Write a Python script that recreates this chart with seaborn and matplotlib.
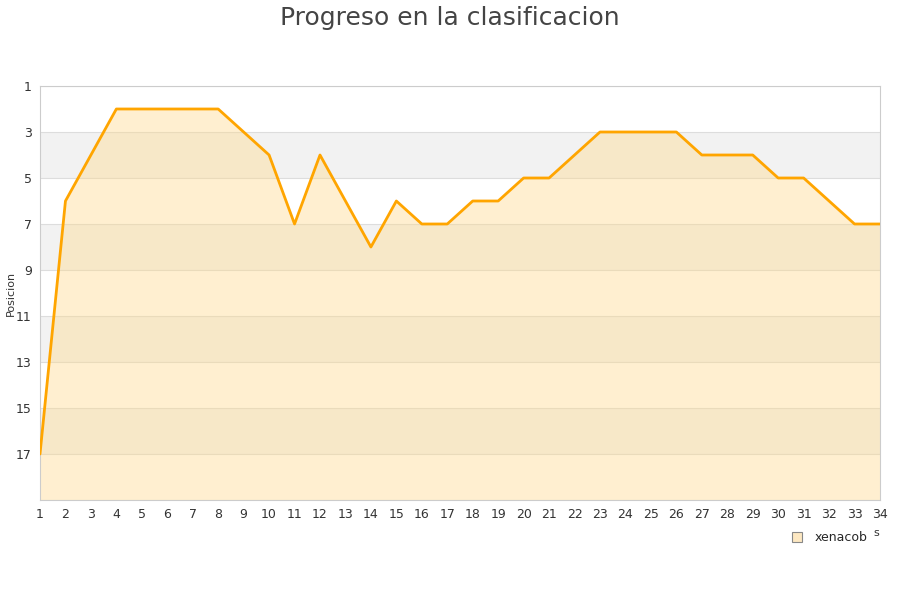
import matplotlib.pyplot as plt
import seaborn as sns
import pandas as pd

jornadas = list(range(1, 35))
posiciones = [17, 6, 4, 2, 2, 2, 2, 2, 3, 4, 7, 4, 6, 8, 6, 7, 7, 6, 6, 5,
              5, 4, 3, 3, 3, 3, 4, 4, 4, 5, 5, 6, 7, 7]
y_ticks = [1, 3, 5, 7, 9, 11, 13, 15, 17]
equipo = "xenacob"

df = pd.DataFrame({"jornada": jornadas, "posicion": posiciones})

sns.set_style("white")
plt.rcParams["font.family"] = ["DejaVu Sans"]

fig = plt.figure(figsize=(9, 6), dpi=100)
ax = fig.add_axes([40 / 900, 100 / 600, 840 / 900, 414 / 600])

# alternating grey bands
for lo in range(3, 19, 4):
    ax.axhspan(lo, lo + 2, color="#f2f2f2", zorder=0, lw=0)
for t in y_ticks + [19]:
    ax.axhline(t, color="#dddddd", lw=0.8, zorder=1)

ax.fill_between(df["jornada"], df["posicion"], 19, color="#ffd98a", alpha=0.4,
                lw=0, zorder=2)
sns.lineplot(data=df, x="jornada", y="posicion", color="#ffa500", lw=2,
             ax=ax, zorder=3, legend=False)

ax.set_xlim(1, 34)
ax.set_ylim(19, 1)
ax.set_xticks(jornadas)
ax.set_yticks(y_ticks)
ax.tick_params(labelsize=9, colors="#333333", length=0, pad=6)
ax.set_xlabel("")
ax.set_ylabel("")
for s in ax.spines.values():
    s.set_color("#cccccc")
    s.set_linewidth(0.8)

fig.text(11 / 900, 1 - 293 / 600, "Posicion", fontsize=8, color="#333333",
         rotation=90, ha="center", va="center")
fig.suptitle("Progreso en la clasificacion", fontsize=18, color="#444444",
             y=0.99)

h = plt.Line2D([], [], marker="s", ls="", markersize=7, markerfacecolor="#fde8c2",
               markeredgecolor="#888888", markeredgewidth=0.8)
fig.legend([h], [equipo], loc="upper left", bbox_to_anchor=(773 / 900, 1 - 520 / 600),
           frameon=False, fontsize=9, handletextpad=0.4)
fig.text(873 / 900, 1 - 536 / 600, "s", fontsize=8, color="#333333")

fig.savefig("out.png", dpi=100)
